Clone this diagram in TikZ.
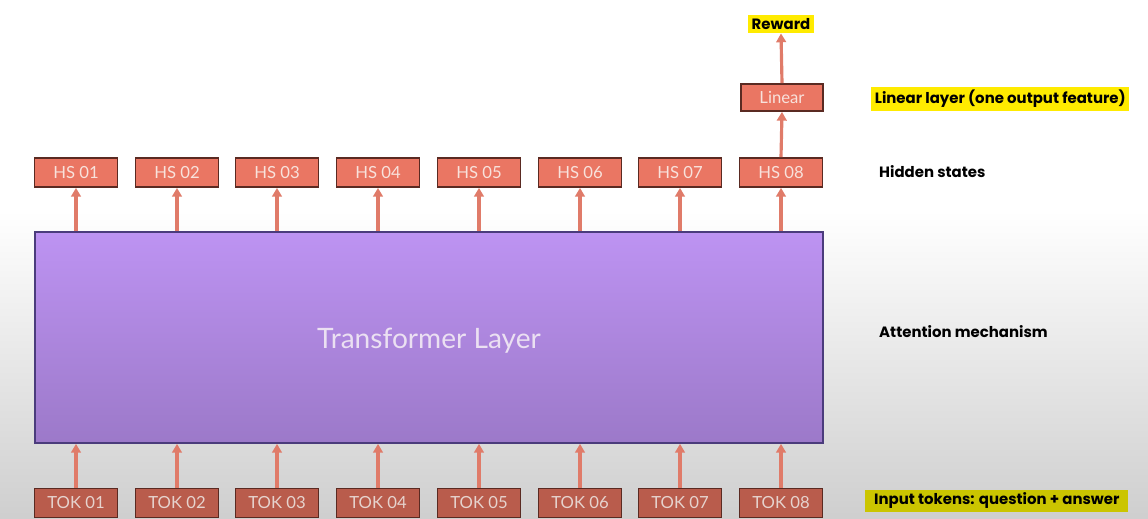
\documentclass[tikz,border=0pt]{standalone}
\usepackage{fontspec}
\setmainfont{Lato}
\newfontfamily\labelfont{Poppins}
\usetikzlibrary{arrows.meta}

\definecolor{hsfill}{HTML}{EA7663}
\definecolor{tokfill}{HTML}{B95C4C}
\definecolor{boxline}{HTML}{5A2A22}
\definecolor{boxtext}{HTML}{F8E2DC}
\definecolor{arrowcol}{HTML}{E07B69}
\definecolor{transtop}{HTML}{BD93F2}
\definecolor{transbot}{HTML}{9C79C9}
\definecolor{transline}{HTML}{4B3C7C}
\definecolor{transtext}{HTML}{EBE0F2}
\definecolor{hilite}{HTML}{FFEB00}
\definecolor{hilitedark}{HTML}{CBC500}

\tikzset{
    hsbox/.style={draw=boxline, line width=1pt, fill=hsfill, text=boxtext,
        minimum width=1.66cm, minimum height=0.58cm, font=\fontsize{9.5}{10}\selectfont},
    tokbox/.style={hsbox, fill=tokfill, text=boxtext!85!gray},
    uparrow/.style={arrowcol, line width=1.8pt, -{Triangle[length=5pt,width=5.5pt]}},
    sidelabel/.style={anchor=west, font=\labelfont\bfseries\fontsize{8.5}{10}\selectfont},
}

\begin{document}
\begin{tikzpicture}[x=0.02cm, y=-0.02cm]
    \useasboundingbox (0,0) rectangle (1148,519);
    % Background
    \fill[white] (0,0) rectangle (1148,519);
    \shade[top color=white, bottom color=black!19] (0,210) rectangle (1148,519);

    % Transformer
    \node[draw=transline, line width=1pt, top color=transtop, bottom color=transbot,
        minimum width=15.76cm, minimum height=4.22cm, text=transtext,
        font=\fontsize{16}{18}\selectfont] (trans) at (429,337.5) {};
    \node[text=transtext, font=\fontsize{16}{18}\selectfont] (translabel) at (429,341) {Transformer Layer};

    % Hidden states and tokens
    \foreach \i/\x in {1/76,2/177,3/277,4/378,5/479,6/580,7/680,8/781} {
        \node[hsbox] (hs\i) at (\x,172.5) {HS 0\i};
        \node[tokbox] (tok\i) at (\x,503) {TOK 0\i};
        \draw[uparrow] (trans.north -| hs\i) -- (hs\i.south);
        \draw[uparrow] (tok\i.north) -- (trans.south -| tok\i);
    }

    % Linear layer and reward
    \node[hsbox, minimum width=1.64cm, minimum height=0.54cm] (linear) at (782,97.5) {Linear};
    \node[fill=hilite, inner sep=2pt, font=\labelfont\bfseries\fontsize{8.5}{10}\selectfont] (reward) at (781,24) {Reward};
    \draw[uparrow] (hs8.north) -- (linear.south);
    \draw[uparrow] (linear.north) -- (reward.south);

    % Labels
    \node[sidelabel, fill=hilite, inner sep=2pt] (lablin) at (871,99) {Linear layer (one output feature)};
    \node[sidelabel] (labhs) at (873,172) {Hidden states};
    \node[sidelabel] (labatt) at (873,332) {Attention mechanism};
    \node[sidelabel, fill=hilitedark, inner xsep=5pt, inner ysep=2pt] (labtok) at (865,501) {Input tokens: question + answer};
\end{tikzpicture}
\end{document}
